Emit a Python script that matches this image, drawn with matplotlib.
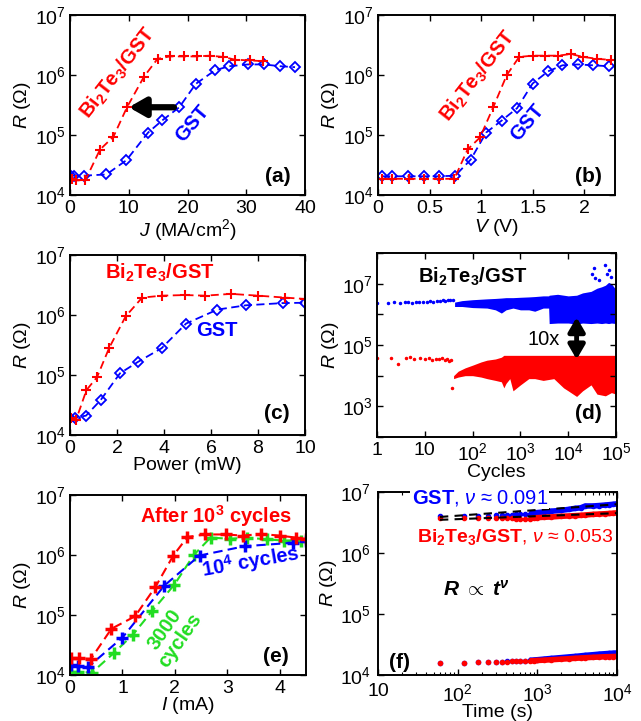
import numpy as np
import matplotlib
matplotlib.use('Agg')
import matplotlib.pyplot as plt
from matplotlib.ticker import NullLocator, LogLocator

# ---- data ----
# (a) R vs current density J
a_bt_J = [0.3, 1.0, 2.6, 5.1, 7.4, 9.7, 12.6, 14.9, 17.0, 19.4, 21.6, 23.8, 26.1, 28.1, 30.6, 32.9]
a_bt_R = [1.85e4, 1.75e4, 1.75e4, 5.7e4, 9.4e4, 2.9e5, 9.4e5, 1.86e6, 2.04e6, 2.04e6, 2.04e6,
          2.1e6, 2.0e6, 1.8e6, 1.75e6, 1.7e6]
a_gst_J = [0.2, 0.7, 2.3, 6.2, 9.6, 13.3, 15.7, 18.6, 21.4, 24.7, 27.1, 30.3, 33.0, 35.8, 38.3]
a_gst_R = [2.1e4, 2.1e4, 2.1e4, 2.2e4, 3.8e4, 1.1e5, 1.75e5, 2.9e5, 7.1e5, 1.2e6, 1.4e6,
           1.5e6, 1.5e6, 1.4e6, 1.35e6]

# (b) R vs voltage V
b_bt_V = [0.04, 0.14, 0.30, 0.45, 0.59, 0.74, 0.87, 0.99, 1.12, 1.25, 1.37, 1.50, 1.62,
          1.75, 1.87, 1.99, 2.13, 2.26]
b_bt_R = [1.86e4, 1.86e4, 1.86e4, 1.86e4, 1.86e4, 1.86e4, 5.75e4, 9.1e4, 2.95e5, 1.0e6,
          2.0e6, 2.1e6, 2.1e6, 2.1e6, 2.24e6, 2.0e6, 1.86e6, 1.78e6]
b_gst_V = [0.04, 0.14, 0.29, 0.45, 0.59, 0.75, 0.90, 1.05, 1.20, 1.35, 1.50, 1.65, 1.79,
           1.94, 2.09, 2.24]
b_gst_R = [2.05e4, 2.05e4, 2.05e4, 2.05e4, 2.05e4, 2.1e4, 3.9e4, 1.1e5, 1.74e5, 2.8e5,
           7.2e5, 1.15e6, 1.45e6, 1.5e6, 1.45e6, 1.4e6]

# (c) R vs power
c_bt_P = [0.05, 0.25, 0.7, 1.15, 1.67, 2.37, 3.07, 3.92, 4.88, 5.75, 6.85, 8.0, 9.15, 10.0]
c_bt_R = [1.9e4, 1.75e4, 5.6e4, 9.2e4, 2.85e5, 9.5e5, 1.95e6, 2.1e6, 2.15e6, 2.1e6, 2.25e6,
          2.1e6, 1.95e6, 1.85e6]
c_gst_P = [0.0, 0.2, 0.68, 1.3, 2.13, 2.9, 3.9, 4.94, 6.27, 7.48, 9.05, 10.0]
c_gst_R = [1.95e4, 1.95e4, 2.1e4, 3.8e4, 1.07e5, 1.66e5, 2.8e5, 7.2e5, 1.23e6, 1.45e6,
           1.58e6, 1.6e6]

# (d) endurance: sparse early cycles and envelopes of the dense cloud
d_gst_sparse_c = [1, 1.7, 2.3, 3, 3.8, 4.5, 5.5, 6.5, 7.5, 9, 11, 13, 15, 18, 21, 24, 27, 30, 34, 38]
d_gst_sparse_R = [2.4e6, 2.4e6, 2.5e6, 2.4e6, 2.5e6, 2.5e6, 2.4e6, 2.6e6, 2.5e6, 2.6e6, 2.6e6,
                  2.7e6, 2.6e6, 2.8e6, 2.7e6, 2.9e6, 2.8e6, 3.0e6, 2.9e6, 3.0e6]
d_gst_band_c = [42, 60, 100, 200, 300, 400, 500, 700, 1000, 1500, 2000, 3000, 3900, 4000,
                6000, 1e4, 1.5e4, 2e4, 3e4, 4e4, 5e4, 6e4, 7e4, 8e4, 1e5]
d_gst_band_hi = [2.5e6, 2.8e6, 3.0e6, 3.2e6, 3.3e6, 3.4e6, 3.5e6, 3.5e6, 3.6e6, 3.7e6, 3.8e6,
                 4.0e6, 4.0e6, 4.2e6, 4.5e6, 4.0e6, 4.2e6, 5.0e6, 5.6e6, 7.1e6, 7.9e6, 8.9e6,
                 1.1e7, 1.0e7, 6.3e6]
d_gst_band_lo = [1.8e6, 1.8e6, 1.66e6, 1.6e6, 1.4e6, 1.1e6, 1.4e6, 1.6e6, 1.4e6, 1.4e6, 1.26e6,
                 1.6e6, 1.6e6, 5.0e5, 5.2e5, 5.2e5, 4.8e5, 5.2e5, 5.0e5, 5.2e5, 5.0e5, 5.2e5,
                 5.0e5, 5.2e5, 5.0e5]
d_gst_spike_c = [3.2e4, 3.4e4, 3.6e4, 4.5e4, 6.0e4, 6.5e4, 7.0e4, 8.0e4]
d_gst_spike_R = [2.0e7, 3.3e7, 1.5e7, 1.3e7, 4.2e7, 2.0e7, 2.8e7, 1.6e7]
d_bt_sparse_c = [1, 2, 2.8, 4, 5, 6, 8, 10, 12, 14, 17, 20, 23, 26, 29, 32, 35, 37]
d_bt_sparse_R = [3.8e4, 3.9e4, 2.4e4, 3.7e4, 4.0e4, 3.6e4, 3.8e4, 3.5e4, 3.9e4, 3.3e4, 3.6e4,
                 3.4e4, 3.8e4, 3.2e4, 3.5e4, 3.0e4, 3.3e4, 4.0e3]
d_bt_band_c = [40, 50, 70, 100, 150, 200, 300, 400, 450, 500, 600, 700, 1000, 1500, 2000,
               3000, 5000, 8000, 1e4, 1.5e4, 2e4, 3e4, 4e4, 6e4, 8e4, 1e5]
d_bt_band_hi = [1.0e4, 1.4e4, 1.8e4, 2.2e4, 2.8e4, 3.2e4, 3.5e4, 4.0e4, 4.6e4, 4.6e4, 4.6e4,
                4.6e4, 4.6e4, 4.6e4, 4.6e4, 4.6e4, 4.6e4, 4.6e4, 4.6e4, 4.6e4, 4.6e4, 4.6e4,
                4.6e4, 4.6e4, 4.6e4, 4.6e4]
d_bt_band_lo = [8e3, 9e3, 1e4, 1e4, 9e3, 8e3, 7e3, 6.3e3, 4e3, 5.6e3, 8e3, 3.2e3, 5e3, 8e3,
                8e3, 7e3, 8e3, 4e3, 3.2e3, 2.1e3, 3.2e3, 5e3, 2.5e3, 2.2e3, 2.8e3, 2.5e3]

# (e) R vs current I after cycling
e_1e3_I = [0.02, 0.17, 0.40, 0.79, 1.24, 1.63, 1.97, 2.24, 2.58, 2.98, 3.29, 3.65, 4.0, 4.31, 4.5]
e_1e3_R = [1.9e4, 1.9e4, 1.86e4, 5.9e4, 9.5e4, 2.95e5, 9.8e5, 2.0e6, 2.2e6, 2.2e6, 2.1e6,
           2.24e6, 2.1e6, 1.95e6, 1.85e6]
e_1e4_I = [0.02, 0.16, 0.34, 1.0, 1.8, 2.47, 3.33, 4.25, 4.5]
e_1e4_R = [1.45e4, 1.4e4, 1.35e4, 4.2e4, 3.1e5, 9.8e5, 1.4e6, 1.6e6, 1.7e6]
e_3000_I = [0.02, 0.16, 0.42, 0.83, 1.2, 1.56, 1.99, 2.36, 2.68, 3.06, 3.38, 3.75, 4.08, 4.4]
e_3000_R = [1.12e4, 1.12e4, 1.1e4, 2.3e4, 4.7e4, 1.15e5, 3.2e5, 1.0e6, 1.95e6, 1.86e6,
            1.95e6, 1.82e6, 1.74e6, 1.74e6]

# (f) drift, R vs time
f_t = [60, 120, 180, 240, 300, 360, 420, 480, 540, 600, 700, 800, 900, 1000, 1200, 1500,
       2000, 2500, 3000, 3500, 4000, 5000, 6000, 7000, 8000, 9000, 10000]
f_gst_hi = [4.0e6, 4.0e6, 4.05e6, 4.1e6, 4.15e6, 4.2e6, 4.2e6, 4.25e6, 4.3e6, 4.3e6, 4.35e6,
            4.4e6, 4.5e6, 4.6e6, 4.7e6, 4.85e6, 5.0e6, 5.2e6, 5.4e6, 5.5e6, 5.9e6, 5.9e6,
            6.0e6, 6.1e6, 6.2e6, 6.3e6, 6.4e6]
f_bt_hi = [3.7e6, 3.7e6, 3.7e6, 3.72e6, 3.74e6, 3.75e6, 3.75e6, 3.7e6, 3.65e6, 3.6e6, 3.6e6,
           3.65e6, 3.75e6, 3.8e6, 3.85e6, 3.9e6, 4.0e6, 4.05e6, 4.1e6, 4.15e6, 4.2e6, 4.3e6,
           4.35e6, 4.4e6, 4.45e6, 4.5e6, 4.55e6]
f_gst_lo = [1.58e4, 1.6e4, 1.62e4, 1.64e4, 1.65e4, 1.66e4, 1.67e4, 1.68e4, 1.69e4, 1.7e4,
            1.72e4, 1.74e4, 1.76e4, 1.78e4, 1.82e4, 1.87e4, 1.93e4, 1.98e4, 2.02e4, 2.06e4,
            2.1e4, 2.15e4, 2.2e4, 2.23e4, 2.26e4, 2.28e4, 2.3e4]
f_bt_lo = [1.58e4, 1.6e4, 1.62e4, 1.63e4, 1.64e4, 1.65e4, 1.66e4, 1.67e4, 1.68e4, 1.68e4,
           1.7e4, 1.71e4, 1.72e4, 1.73e4, 1.75e4, 1.78e4, 1.82e4, 1.85e4, 1.88e4, 1.9e4,
           1.92e4, 1.95e4, 1.97e4, 1.99e4, 2.0e4, 2.01e4, 2.02e4]
f_fit_t = [60, 10000]
f_fit_gst = [3.9e6, 6.3e6]
f_fit_bt = [3.5e6, 4.5e6]

# ---- style ----
plt.rcParams['font.family'] = ['Liberation Sans', 'DejaVu Sans']
plt.rcParams['mathtext.fontset'] = 'custom'
plt.rcParams['mathtext.rm'] = 'Liberation Sans'
plt.rcParams['mathtext.it'] = 'Liberation Sans:italic'
plt.rcParams['mathtext.bf'] = 'Liberation Sans:bold'
plt.rcParams['mathtext.bfit'] = 'Liberation Sans:bold:italic'
plt.rcParams['font.size'] = 14
plt.rcParams['axes.linewidth'] = 1.4
for a in ('xtick', 'ytick'):
    plt.rcParams[a + '.direction'] = 'in'
    plt.rcParams[a + '.major.size'] = 4
    plt.rcParams[a + '.minor.size'] = 2
    plt.rcParams[a + '.major.width'] = 1.0
    plt.rcParams[a + '.minor.width'] = 0.8
plt.rcParams['xtick.top'] = True
plt.rcParams['ytick.right'] = True
plt.rcParams['xtick.major.pad'] = 3.5
plt.rcParams['ytick.major.pad'] = 3

RED = '#FF0000'
BLUE = '#0000FF'
GREEN = '#22DD22'
DASH = (0, (4.5, 2.5))
BT = 'Bi$_\\mathbf{2}$Te$_\\mathbf{3}$/GST'
LBL = 14.5

W, H = 641, 721
fig = plt.figure(figsize=(W / 100, H / 100), dpi=100)


def px_axes(x0, x1, y0, y1):
    return fig.add_axes([x0 / W, 1 - y1 / H, (x1 - x0) / W, (y1 - y0) / H])


def r_axis(ax):
    ax.set_yscale('log')
    ax.set_ylim(1e4, 1e7)
    ax.set_yticks([1e4, 1e5, 1e6, 1e7])
    ax.yaxis.set_minor_locator(NullLocator())
    ax.set_ylabel('$R$ (Ω)', labelpad=1)


def tag(ax, s, x, y):
    ax.text(x, y, s, transform=ax.transAxes, ha='center', va='center',
            fontweight='bold', fontsize=15)


# (a)
ax = px_axes(70, 305, 15, 195)
ax.plot(a_gst_J, a_gst_R, color=BLUE, ls=DASH, lw=1.3, marker='D', ms=5.5, mfc='none', mew=1.3)
ax.plot(a_bt_J, a_bt_R, color=RED, ls=DASH, lw=1.3, marker='+', ms=7, mew=1.5)
ax.annotate('', xy=(10.0, 2.9e5), xytext=(17.7, 2.9e5),
            arrowprops=dict(arrowstyle='-|>,head_length=0.7,head_width=0.4', lw=4.5,
                            color='k', shrinkA=0, shrinkB=0, mutation_scale=14))
ax.text(8.2, 1.1e6, BT, color=RED, fontweight='bold', rotation=52, ha='center', va='center',
        fontsize=LBL)
ax.text(20.8, 1.57e5, 'GST', color=BLUE, fontweight='bold', rotation=50, ha='center',
        va='center', fontsize=LBL)
ax.set_xlim(0, 40)
ax.set_xticks([0, 10, 20, 30, 40])
r_axis(ax)
ax.set_xlabel('$J$ (MA/cm$^2$)', labelpad=0)
tag(ax, '(a)', 0.885, 0.105)

# (b)
ax = px_axes(378, 615, 15, 195)
ax.plot(b_gst_V, b_gst_R, color=BLUE, ls=DASH, lw=1.3, marker='D', ms=5.5, mfc='none', mew=1.3)
ax.plot(b_bt_V, b_bt_R, color=RED, ls=DASH, lw=1.3, marker='+', ms=7, mew=1.5)
ax.text(0.97, 9.6e5, BT, color=RED, fontweight='bold', rotation=52, ha='center', va='center',
        fontsize=LBL)
ax.text(1.45, 1.6e5, 'GST', color=BLUE, fontweight='bold', rotation=50, ha='center',
        va='center', fontsize=LBL)
ax.set_xlim(0, 2.3)
ax.set_xticks([0, 0.5, 1, 1.5, 2])
ax.set_xticklabels(['0', '0.5', '1', '1.5', '2'])
r_axis(ax)
ax.set_xlabel('$V$ (V)', labelpad=0)
tag(ax, '(b)', 0.886, 0.105)

# (c)
ax = px_axes(70, 305, 255, 435)
ax.plot(c_gst_P, c_gst_R, color=BLUE, ls=DASH, lw=1.3, marker='D', ms=5.5, mfc='none', mew=1.3)
ax.plot(c_bt_P, c_bt_R, color=RED, ls=DASH, lw=1.3, marker='+', ms=7, mew=1.5)
ax.text(3.83, 4.95e6, BT, color=RED, fontweight='bold', ha='center', va='center', fontsize=LBL)
ax.text(6.24, 5.5e5, 'GST', color=BLUE, fontweight='bold', ha='center', va='center',
        fontsize=LBL)
ax.set_xlim(0, 10)
ax.set_xticks([0, 2, 4, 6, 8, 10])
r_axis(ax)
ax.set_xlabel('Power (mW)', labelpad=0)
tag(ax, '(c)', 0.88, 0.12)

# (d)
ax = px_axes(377, 616, 253, 437)
ax.set_xscale('log')
ax.set_yscale('log')
ax.fill_between(d_gst_band_c, d_gst_band_lo, d_gst_band_hi, color=BLUE, lw=0)
ax.fill_between(d_bt_band_c, d_bt_band_lo, d_bt_band_hi, color=RED, lw=0)
ax.plot(d_gst_sparse_c, d_gst_sparse_R, ls='none', marker='o', ms=1.5, color=BLUE)
ax.plot(d_gst_spike_c, d_gst_spike_R, ls='none', marker='o', ms=1.5, color=BLUE)
ax.plot(d_bt_sparse_c, d_bt_sparse_R, ls='none', marker='o', ms=1.5, color=RED)
ax.annotate('', xy=(1.5e4, 8e5), xytext=(1.5e4, 3.4e4),
            arrowprops=dict(arrowstyle='<|-|>,head_length=0.6,head_width=0.35', lw=3.5,
                            color='k', shrinkA=0, shrinkB=0, mutation_scale=14))
ax.text(3000, 1.56e5, '10x', ha='center', va='center', fontsize=LBL)
ax.text(103, 1.7e7, BT, color='k', fontweight='bold', ha='center', va='center', fontsize=LBL)
ax.set_xlim(1, 1e5)
ax.set_ylim(1e2, 1e8)
ax.set_xticks([1, 10, 1e2, 1e3, 1e4, 1e5])
ax.set_xticklabels(['1', '10', '$10^2$', '$10^3$', '$10^4$', '$10^5$'])
ax.xaxis.set_minor_locator(LogLocator(base=10, subs=np.arange(2, 10)))
ax.xaxis.set_minor_formatter(plt.NullFormatter())
ax.set_yticks([1e2, 1e3, 1e4, 1e5, 1e6, 1e7, 1e8])
ax.set_yticklabels(['', '$10^3$', '', '$10^5$', '', '$10^7$', ''])
ax.yaxis.set_minor_locator(NullLocator())
ax.set_ylabel('$R$ (Ω)', labelpad=1)
ax.set_xlabel('Cycles', labelpad=0)
tag(ax, '(d)', 0.883, 0.13)

# (e)
ax = px_axes(70, 306, 495, 675)
ax.plot(e_3000_I, e_3000_R, color=GREEN, ls=DASH, lw=1.5, marker='+', ms=8, mew=2.5)
ax.plot(e_1e4_I, e_1e4_R, color=BLUE, ls=DASH, lw=1.5, marker='+', ms=8, mew=2.5)
ax.plot(e_1e3_I, e_1e3_R, color=RED, ls=DASH, lw=1.5, marker='+', ms=8, mew=2.5)
ax.text(2.78, 4.4e6, 'After 10$^\\mathbf{3}$ cycles', color=RED, fontweight='bold',
        ha='center', va='center', fontsize=LBL)
ax.text(3.45, 7.8e5, '10$^\\mathbf{4}$ cycles', color=BLUE, fontweight='bold', rotation=10,
        ha='center', va='center', fontsize=LBL)
ax.text(1.95, 4.7e4, '3000\ncycles', color=GREEN, fontweight='bold', rotation=55,
        ha='center', va='center', linespacing=1.0, fontsize=LBL)
ax.set_xlim(0, 4.5)
ax.set_xticks([0, 1, 2, 3, 4])
r_axis(ax)
ax.set_xlabel('$I$ (mA)', labelpad=-1)
tag(ax, '(e)', 0.872, 0.10)

# (f)
ax = px_axes(378, 617, 492, 675)
ax.set_xscale('log')
t = np.array(f_t)
dense = t >= 800
for hi, lo, c in ((f_gst_hi, f_gst_lo, BLUE), (f_bt_hi, f_bt_lo, RED)):
    hi = np.array(hi)
    lo = np.array(lo)
    ax.plot(t, hi, ls='none', marker='o', ms=3, color=c)
    ax.plot(t, lo, ls='none', marker='o', ms=3, color=c)
    ax.plot(t[dense], hi[dense], lw=4, color=c, solid_capstyle='butt')
    ax.plot(t[dense], lo[dense], lw=4, color=c, solid_capstyle='butt')
ax.plot(f_fit_t, f_fit_gst, color='k', ls=(0, (4, 3)), lw=1.5, zorder=4)
ax.plot(f_fit_t, f_fit_bt, color='k', ls=(0, (4, 3)), lw=1.5, zorder=4)
ax.text(0.141, 0.967, '$\\mathbf{GST}$, $\\nu$ ≈ 0.091', color=BLUE, transform=ax.transAxes,
        ha='left', va='center', zorder=6, clip_on=False, fontsize=LBL,
        bbox=dict(facecolor='white', edgecolor='none', pad=1.0))
ax.text(0.165, 0.754, '$\\mathbf{Bi_2Te_3/GST}$, $\\nu$ ≈ 0.053', color=RED,
        transform=ax.transAxes, ha='left', va='center', fontsize=14)
ax.text(0.414, 0.464, '$\\mathbfit{R}\\ \\mathbf{\\propto}\\ \\mathbfit{t}^{\\mathbfit{\\nu}}$',
        transform=ax.transAxes, ha='center', va='center', fontsize=15)
ax.set_xlim(10, 1e4)
ax.set_xticks([10, 1e2, 1e3, 1e4])
ax.set_xticklabels(['10', '$10^2$', '$10^3$', '$10^4$'])
ax.xaxis.set_minor_locator(LogLocator(base=10, subs=np.arange(2, 10)))
ax.xaxis.set_minor_formatter(plt.NullFormatter())
ax.tick_params(axis='x', which='major', pad=6)
ax.tick_params(axis='y', which='major', pad=5)
r_axis(ax)
ax.set_xlabel('Time (s)', labelpad=-1)
tag(ax, '(f)', 0.092, 0.07)

fig.savefig('out.png', dpi=100)
